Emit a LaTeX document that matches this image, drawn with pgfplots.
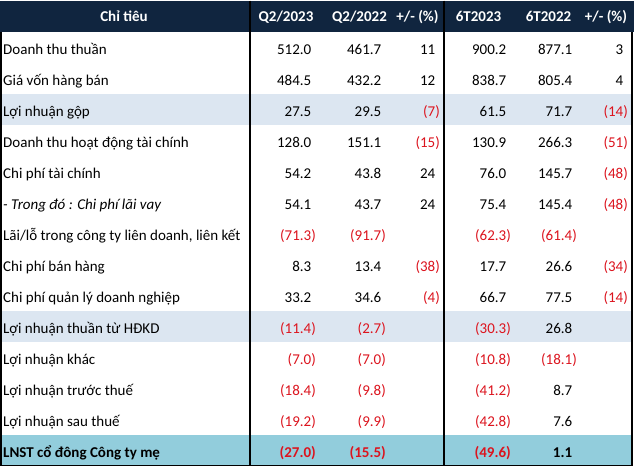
\documentclass[border=0pt]{standalone}
\usepackage{pgfplots}
\pgfplotsset{compat=1.18}
\usepackage{pgfplotstable}
\usepackage{fontspec}
\setmainfont{Carlito}
\definecolor{hdr}{HTML}{10253F}
\definecolor{band}{HTML}{DCE6F1}
\definecolor{total}{HTML}{92CDDC}
\definecolor{negred}{RGB}{220,20,30}
\pgfkeys{/pgf/number format/assume math mode=true}

% accounting style: negatives red in brackets, positives padded by a ")", nan left blank
\def\nanstr{nan}
\def\checkneg#1#2\relax#3{\ifx-#1\textcolor{negred}{(\pgfmathprintnumber[fixed,fixed zerofill,precision=#3]{#2})}\else\pgfmathprintnumber[fixed,fixed zerofill,precision=#3]{#1#2}\phantom{)}\fi}
\newcommand\acct[2]{\edef\tmpv{#1}\ifx\tmpv\nanstr\else\expandafter\checkneg\tmpv\relax{#2}\fi}

\pgfplotstableread[col sep=semicolon]{
row;label;q23;q22;dq;h23;h22;dh
1;Doanh thu thuần;512.0;461.7;11;900.2;877.1;3
2;Giá vốn hàng bán;484.5;432.2;12;838.7;805.4;4
3;Lợi nhuận gộp;27.5;29.5;-7;61.5;71.7;-14
4;Doanh thu hoạt động tài chính;128.0;151.1;-15;130.9;266.3;-51
5;Chi phí tài chính;54.2;43.8;24;76.0;145.7;-48
6;;54.1;43.7;24;75.4;145.4;-48
7;Lãi/lỗ trong công ty liên doanh, liên kết;-71.3;-91.7;nan;-62.3;-61.4;nan
8;Chi phí bán hàng;8.3;13.4;-38;17.7;26.6;-34
9;Chi phí quản lý doanh nghiệp;33.2;34.6;-4;66.7;77.5;-14
10;Lợi nhuận thuần từ HĐKD;-11.4;-2.7;nan;-30.3;26.8;nan
11;Lợi nhuận khác;-7.0;-7.0;nan;-10.8;-18.1;nan
12;Lợi nhuận trước thuế;-18.4;-9.8;nan;-41.2;8.7;nan
13;Lợi nhuận sau thuế;-19.2;-9.9;nan;-42.8;7.6;nan
}\pl

% sub-item row, set in italics
\pgfplotstableread[col sep=semicolon]{
row;label
6;- Trong đó : Chi phí lãi vay
}\plsub

% total row, set in bold
\pgfplotstableread[col sep=semicolon]{
row;label;q23;q22;dq;h23;h22;dh
14;LNST cổ đông Công ty mẹ;-27.0;-15.5;nan;-49.6;1.1;nan
}\pltot

\pgfplotstableread[col sep=semicolon]{
x;txt
124;Chỉ tiêu
286;Q2/2023
359.5;Q2/2022
417.5;+/- (\%)
478.5;6T2023
548.5;6T2022
606;+/- (\%)
}\hd

\pgfplotsset{
  numcol/.style 2 args={draw=none, point meta=explicit symbolic,
    nodes near coords={\acct{\pgfplotspointmeta}{#2}},
    nodes near coords align={anchor=base east}},
  lab/.style={draw=none, point meta=explicit symbolic,
    nodes near coords, nodes near coords align={anchor=base west}},
}

\begin{document}
\begin{tikzpicture}
\begin{axis}[
  width=634pt, height=468pt, scale only axis,
  xmin=0, xmax=634, ymin=0, ymax=468, y dir=reverse,
  hide axis, clip=false,
  every node near coord/.append style={font=\fontsize{15}{18}\selectfont, inner sep=0pt},
]
% backgrounds
\addplot[fill=white, draw=none] coordinates {(0,0)(634,0)(634,468)(0,468)} -- cycle;
\addplot[fill=hdr, draw=none] coordinates {(0,0)(634,0)(634,31)(0,31)} -- cycle;
\addplot[fill=band, draw=none] coordinates {(0,93)(632,93)(632,124)(0,124)} -- cycle;
\addplot[fill=band, draw=none] coordinates {(0,310)(632,310)(632,341)(0,341)} -- cycle;
\addplot[fill=total, draw=none] coordinates {(0,434)(632,434)(632,465)(0,465)} -- cycle;
% borders
\addplot[black, line width=1.3pt] coordinates {(1,31)(1,464.5)(632,464.5)(632,31)};
\addplot[black, line width=1.3pt] coordinates {(250,0)(250,464.5)};
\addplot[black, line width=1.3pt] coordinates {(444,0)(444,464.5)};
% header
\addplot[draw=none, point meta=explicit symbolic, nodes near coords,
  nodes near coords align={anchor=base},
  every node near coord/.append style={text=white, font=\fontsize{15}{18}\selectfont\bfseries}]
  table[x=x, y expr=21, meta=txt]{\hd};
% row labels
\addplot[lab] table[x expr=3, y expr=\thisrow{row}*31+22.5, meta=label]{\pl};
\addplot[lab, every node near coord/.append style={font=\fontsize{15}{18}\selectfont\itshape}]
  table[x expr=3, y expr=\thisrow{row}*31+22.5, meta=label]{\plsub};
\addplot[lab, every node near coord/.append style={font=\fontsize{15}{18}\selectfont\bfseries}]
  table[x expr=3, y expr=\thisrow{row}*31+22.5, meta=label]{\pltot};
% values
\addplot[numcol={q23}{1}] table[x expr=316, y expr=\thisrow{row}*31+22.5, meta=q23]{\pl};
\addplot[numcol={q22}{1}] table[x expr=386, y expr=\thisrow{row}*31+22.5, meta=q22]{\pl};
\addplot[numcol={dq}{0}] table[x expr=440, y expr=\thisrow{row}*31+22.5, meta=dq]{\pl};
\addplot[numcol={h23}{1}] table[x expr=511, y expr=\thisrow{row}*31+22.5, meta=h23]{\pl};
\addplot[numcol={h22}{1}] table[x expr=577, y expr=\thisrow{row}*31+22.5, meta=h22]{\pl};
\addplot[numcol={dh}{0}] table[x expr=628, y expr=\thisrow{row}*31+22.5, meta=dh]{\pl};
\begin{scope}[every node near coord/.append style={font=\fontsize{15}{18}\selectfont\bfseries}]
\addplot[numcol={q23}{1}] table[x expr=316, y expr=\thisrow{row}*31+22.5, meta=q23]{\pltot};
\addplot[numcol={q22}{1}] table[x expr=386, y expr=\thisrow{row}*31+22.5, meta=q22]{\pltot};
\addplot[numcol={h23}{1}] table[x expr=511, y expr=\thisrow{row}*31+22.5, meta=h23]{\pltot};
\addplot[numcol={h22}{1}] table[x expr=577, y expr=\thisrow{row}*31+22.5, meta=h22]{\pltot};
\end{scope}
\end{axis}
\end{tikzpicture}
\end{document}
